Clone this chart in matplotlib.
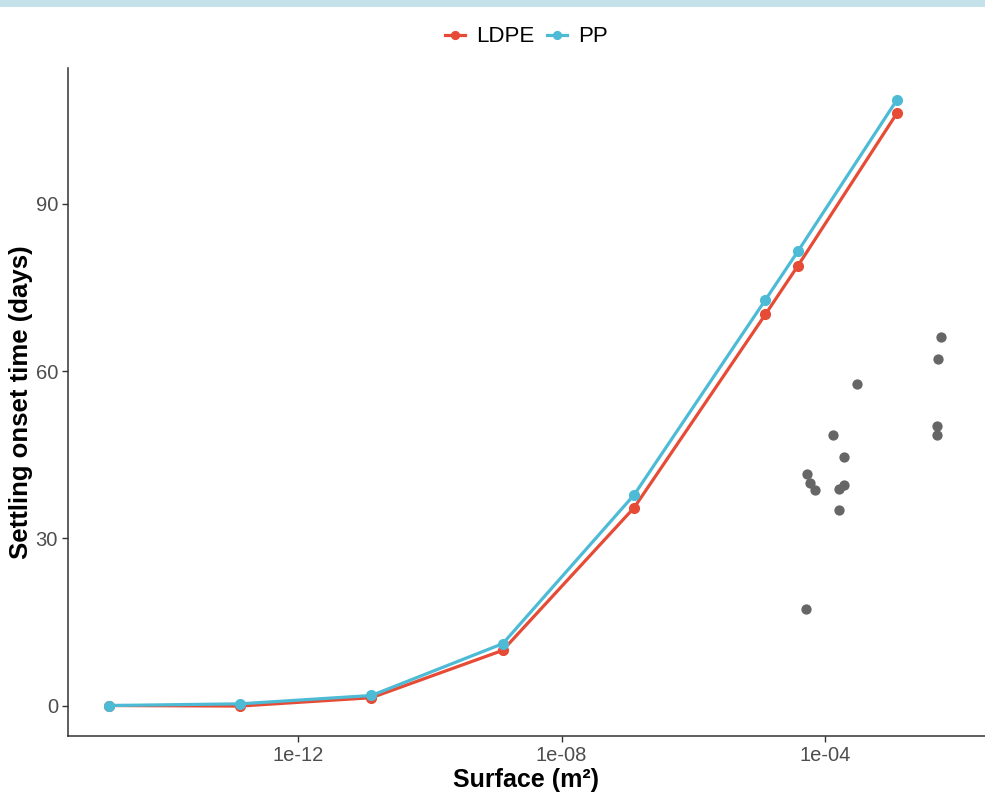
import matplotlib
matplotlib.use("Agg")
import matplotlib.pyplot as plt
from matplotlib.patches import Rectangle
from matplotlib.ticker import NullLocator

plt.rcParams['font.family'] = ['Liberation Sans', 'DejaVu Sans']

# Data
surface = [1.37e-15, 1.3e-13, 1.3e-11, 1.28e-9, 1.26e-7, 1.24e-5, 3.85e-5, 1.23e-3]
ldpe = [0.0, -0.1, 1.4, 9.9, 35.5, 70.2, 78.9, 106.3]
pp = [0.0, 0.3, 1.8, 11.1, 37.8, 72.8, 81.5, 108.7]

obs_surface = [5.65e-3, 5.09e-3, 3.0e-4, 1.3e-4, 4.92e-3, 4.92e-3, 1.95e-4, 5.35e-5,
               5.87e-5, 6.92e-5, 1.64e-4, 1.95e-4, 1.6e-4, 5.16e-5]
obs_time = [66.2, 62.2, 57.7, 48.6, 50.2, 48.6, 44.6, 41.6, 39.9, 38.7, 38.9,
            39.6, 35.0, 17.4]

xticks = [1e-12, 1e-8, 1e-4]
xticklabels = ["1e-12", "1e-08", "1e-04"]
yticks = [0, 30, 60, 90]

red = "#E64B35"
blue = "#4DBBD5"
grey = "#666666"

fig = plt.figure(figsize=(9.85, 8.0), dpi=100)
fig.patches.append(Rectangle((0, 0.991), 1, 0.009, transform=fig.transFigure,
                             facecolor="#C5E1E9", edgecolor="none", zorder=0))
ax_left, ax_w = 0.0687, 0.9313
ax = fig.add_axes([ax_left, 0.08, ax_w, 0.835])

ax.scatter(obs_surface, obs_time, s=55, color=grey, zorder=2, linewidths=0)
l1, = ax.plot(surface, ldpe, color=red, lw=2.3, marker='o', markersize=7,
              label="LDPE", zorder=3)
l2, = ax.plot(surface, pp, color=blue, lw=2.3, marker='o', markersize=7,
              label="PP", zorder=4)

ax.set_xscale('log')
ax.set_xlim(10**-15.495, 10**-1.575)
ax.set_ylim(-5.47, 114.4)
ax.set_xticks(xticks)
ax.set_xticklabels(xticklabels)
ax.xaxis.set_minor_locator(NullLocator())
ax.set_yticks(yticks)

for s in ['top', 'right']:
    ax.spines[s].set_visible(False)
for s in ['left', 'bottom']:
    ax.spines[s].set_color('#333333')
    ax.spines[s].set_linewidth(1.1)

ax.tick_params(axis='both', direction='out', length=4, width=1, color='#333333',
               labelsize=14.5, labelcolor='#4D4D4D', pad=3)

ax.set_xlabel("Surface (m²)", fontsize=18, fontweight='bold', labelpad=2)
ax.set_ylabel("Settling onset time (days)", fontsize=18.5, fontweight='bold', labelpad=2)

fig.legend(handles=[l1, l2], loc='center', bbox_to_anchor=(ax_left + ax_w / 2, 0.954),
           ncol=2, frameon=False, fontsize=16, handlelength=0.9, handletextpad=0.5,
           columnspacing=0.6, markerscale=0.8)

fig.savefig("out.png", dpi=100)
